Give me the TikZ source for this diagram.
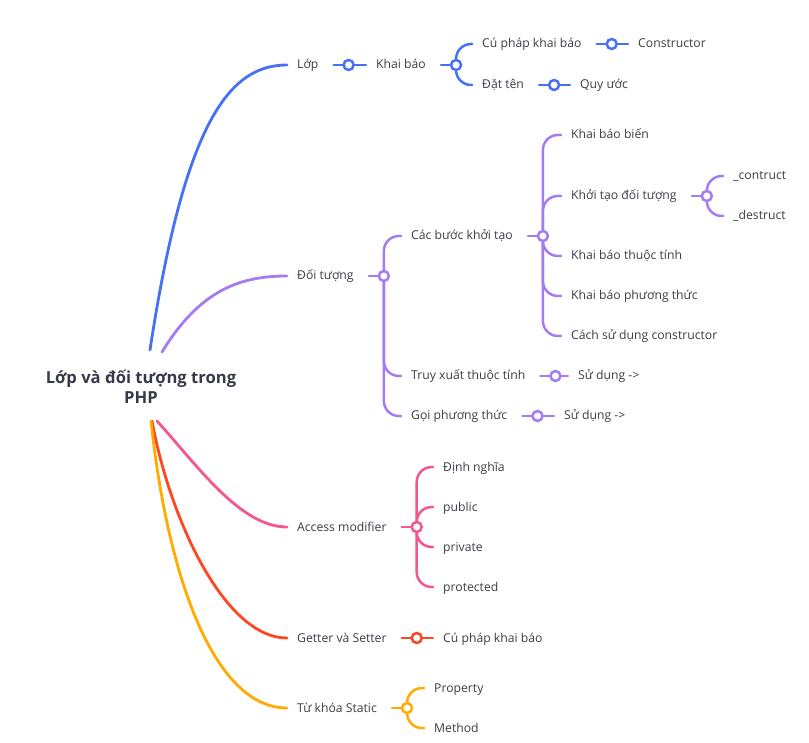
\documentclass[tikz,border=0pt]{standalone}
\usepackage{fontspec}
\setmainfont{Open Sans}
\definecolor{cblue}{HTML}{4671F5}
\definecolor{cpurple}{HTML}{A47CF0}
\definecolor{cpink}{HTML}{F2588E}
\definecolor{cred}{HTML}{FF4622}
\definecolor{corange}{HTML}{FFAB00}
\definecolor{txt}{HTML}{3A3D45}
\definecolor{roottxt}{HTML}{353A48}
\begin{document}
\begin{tikzpicture}[x=1pt,y=-1pt,
  lbl/.style={anchor=west, inner xsep=10pt, inner ysep=0pt, text height=10.5pt, text depth=2.5pt,
    font=\fontsize{12.2}{14}\selectfont, text=txt},
  knob/.style={circle, draw=#1, fill=white, line width=2.5pt, minimum size=10pt, inner sep=0pt},
  lk/.style={draw=#1, line width=2.5pt, line cap=round, rounded corners=15pt},
  rt/.style={draw=#1, line width=2.8pt, line cap=round}]
\useasboundingbox (0,0) rectangle (809,743);

% root
\node[align=center, font=\fontsize{16.6}{20}\selectfont\bfseries, text=roottxt] (root) at (141,387) {Lớp và đối tượng trong\\PHP};
\coordinate (r1) at (150,350);
\coordinate (r2) at (162,352);
\coordinate (r3) at (157,421);
\coordinate (r4) at (152,421);
\coordinate (r5) at (151,421);

% labels
\node[lbl] (lop) at (287,65) {Lớp};
\node[lbl] (kb) at (366,65) {Khai báo};
\node[lbl] (cpkb) at (472,44) {Cú pháp khai báo};
\node[lbl] (ctor) at (628,44) {Constructor};
\node[lbl] (dt) at (472,85) {Đặt tên};
\node[lbl] (qu) at (570,85) {Quy ước};

\node[lbl] (dtg) at (287,276) {Đối tượng};
\node[lbl] (cbkt) at (401,236) {Các bước khởi tạo};
\node[lbl] (kbb) at (561,135) {Khai báo biến};
\node[lbl] (ktdt) at (561,196) {Khởi tạo đối tượng};
\node[lbl] (con) at (723,176) {\_contruct};
\node[lbl] (des) at (723,216) {\_destruct};
\node[lbl] (kbtt) at (561,256) {Khai báo thuộc tính};
\node[lbl] (kbpt) at (561,296) {Khai báo phương thức};
\node[lbl] (csd) at (561,336) {Cách sử dụng constructor};
\node[lbl] (txtt) at (401,376) {Truy xuất thuộc tính};
\node[lbl] (sd1) at (568,376) {Sử dụng ->};
\node[lbl] (gpt) at (401,416) {Gọi phương thức};
\node[lbl] (sd2) at (554,416) {Sử dụng ->};

\node[lbl] (am) at (287,527) {Access modifier};
\node[lbl] (dn) at (433,467) {Định nghĩa};
\node[lbl] (pub) at (433,507) {public};
\node[lbl] (pri) at (433,547) {private};
\node[lbl] (pro) at (433,587) {protected};

\node[lbl] (gs) at (287,638) {Getter và Setter};
\node[lbl] (cp2) at (433,638) {Cú pháp khai báo};

\node[lbl] (tks) at (287,708) {Từ khóa Static};
\node[lbl] (prop) at (424,688) {Property};
\node[lbl] (meth) at (424,728) {Method};

% knob positions
\foreach \n in {lop,kb,cpkb,dt,dtg,cbkt,ktdt,txtt,gpt,am,gs,tks}{
  \coordinate (\n k) at ([xshift=20pt]\n.east);
}

% root connectors
\draw[rt=cblue] (r1) .. controls +(35,-230) and +(-57,0) .. (lop.west);
\draw[rt=cpurple] (r2) .. controls +(38,-62) and +(-47,0) .. (dtg.west);
\draw[rt=cpink] (r3) .. controls +(40,44) and +(-47,0) .. (am.west);
\draw[rt=cred] (r4) .. controls +(18,99) and +(-62,0) .. (gs.west);
\draw[rt=corange] (r5) .. controls +(17,159) and +(-72,0) .. (tks.west);

% stubs
\foreach \n/\c in {lop/cblue,kb/cblue,cpkb/cblue,dt/cblue,dtg/cpurple,cbkt/cpurple,ktdt/cpurple,txtt/cpurple,gpt/cpurple,am/cpink,gs/cred,tks/corange}{
  \draw[lk=\c] ([xshift=5pt]\n.east) -- (\n k);
}

% blue children
\draw[lk=cblue] (lopk) -- (kb.west);
\draw[lk=cblue] (kbk) |- (cpkb.west);
\draw[lk=cblue] (kbk) |- (dt.west);
\draw[lk=cblue] (cpkbk) -- (ctor.west);
\draw[lk=cblue] (dtk) -- (qu.west);

% purple children
\draw[lk=cpurple] (dtgk) |- (cbkt.west);
\draw[lk=cpurple] (dtgk) |- (txtt.west);
\draw[lk=cpurple] (dtgk) |- (gpt.west);
\draw[lk=cpurple] (cbktk) |- (kbb.west);
\draw[lk=cpurple] (cbktk) |- (ktdt.west);
\draw[lk=cpurple] (cbktk) |- (kbtt.west);
\draw[lk=cpurple] (cbktk) |- (kbpt.west);
\draw[lk=cpurple] (cbktk) |- (csd.west);
\draw[lk=cpurple] (ktdtk) |- (con.west);
\draw[lk=cpurple] (ktdtk) |- (des.west);
\draw[lk=cpurple] (txttk) -- (sd1.west);
\draw[lk=cpurple] (gptk) -- (sd2.west);

% pink children
\draw[lk=cpink] (amk) |- (dn.west);
\draw[lk=cpink] (amk) |- (pub.west);
\draw[lk=cpink] (amk) |- (pri.west);
\draw[lk=cpink] (amk) |- (pro.west);

% red / orange children
\draw[lk=cred] (gsk) -- (cp2.west);
\draw[lk=corange] (tksk) |- (prop.west);
\draw[lk=corange] (tksk) |- (meth.west);

% knobs on top
\foreach \n/\c in {lop/cblue,kb/cblue,cpkb/cblue,dt/cblue,dtg/cpurple,cbkt/cpurple,ktdt/cpurple,txtt/cpurple,gpt/cpurple,am/cpink,gs/cred,tks/corange}{
  \node[knob=\c] (\n kn) at (\n k) {};
}
\end{tikzpicture}
\end{document}
